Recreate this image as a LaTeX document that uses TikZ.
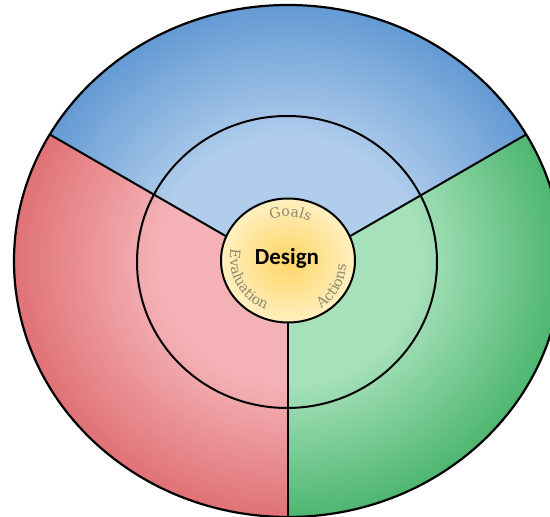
\documentclass[tikz,border=0pt]{standalone}
\usepackage{fontspec}
\newfontfamily\carlito{Carlito}
\newfontfamily\arcfont{DejaVu Serif}
\usetikzlibrary{decorations.text,calc}
\definecolor{bluelt}{RGB}{176,205,236}
\definecolor{bluedk}{RGB}{100,154,211}
\definecolor{redlt}{RGB}{244,178,182}
\definecolor{reddk}{RGB}{224,114,118}
\definecolor{greenlt}{RGB}{166,225,186}
\definecolor{greendk}{RGB}{78,182,112}
\definecolor{coreIn}{RGB}{255,212,100}
\definecolor{coreOut}{RGB}{255,240,192}
\definecolor{arctext}{RGB}{140,135,112}
\pgfdeclareradialshading{blueshade}{\pgfpoint{0bp}{0bp}}{color(0bp)=(bluelt); color(12bp)=(bluelt); color(25bp)=(bluedk); color(50bp)=(bluedk)}
\pgfdeclareradialshading{redshade}{\pgfpoint{0bp}{0bp}}{color(0bp)=(redlt); color(12bp)=(redlt); color(25bp)=(reddk); color(50bp)=(reddk)}
\pgfdeclareradialshading{greenshade}{\pgfpoint{0bp}{0bp}}{color(0bp)=(greenlt); color(12bp)=(greenlt); color(25bp)=(greendk); color(50bp)=(greendk)}
\tikzset{
  ringline/.style={line width=2pt, black},
  outerline/.style={line width=2.2pt, black},
  arclabel/.style={decorate, decoration={text along path, text align=center}}
}
\begin{document}
\begin{tikzpicture}[x=1pt,y=1pt]
\useasboundingbox (0,0) rectangle (550,517);
\fill[white] (0,0) rectangle (550,517);
\coordinate (C) at (288,256);
\coordinate (J) at (288,245);
\coordinate (M) at (287,255);
\coordinate (D) at (288,256.5);
\coordinate (UL) at ($(J)+(150:420)$);
\coordinate (UR) at ($(J)+(30:420)$);
% sectors
\begin{scope}
  \clip (C) ellipse [x radius=274pt, y radius=256pt];
  \begin{scope}
    \clip (J) -- (UL) -- (-80,620) -- (660,620) -- (UR) -- cycle;
    \shade[shading=blueshade] (C) ellipse [x radius=274pt, y radius=256pt];
  \end{scope}
  \begin{scope}
    \clip (J) -- (UL) -- (-80,-60) -- (288,-60) -- cycle;
    \shade[shading=redshade] (C) ellipse [x radius=274pt, y radius=256pt];
  \end{scope}
  \begin{scope}
    \clip (J) -- (288,-60) -- (660,-60) -- (UR) -- cycle;
    \shade[shading=greenshade] (C) ellipse [x radius=274pt, y radius=256pt];
  \end{scope}
  \draw[ringline] (J) -- (UL);
  \draw[ringline] (J) -- (UR);
  \draw[ringline] (J) -- (288,-60);
\end{scope}
\draw[ringline] (M) ellipse [x radius=150pt, y radius=146pt];
\draw[outerline] (C) ellipse [x radius=274pt, y radius=256pt];
% core
\shade[inner color=coreIn, outer color=coreOut] (D) ellipse [x radius=67pt, y radius=62pt];
\draw[ringline] (D) ellipse [x radius=67pt, y radius=62pt];
\node (design) at (287,259) {\carlito\bfseries\fontsize{23}{27}\selectfont Design};
% curved labels
\path[arclabel, decoration={text={|\arcfont\fontsize{14}{16}\selectfont\color{arctext}|Goals}}]
  ($(D)+(134:44)$) arc [start angle=134, end angle=40, radius=44pt];
\path[arclabel, decoration={text={|\arcfont\fontsize{14}{16}\selectfont\color{arctext}|Evaluation}}]
  ($(D)+(150:58)$) arc [start angle=150, end angle=266, x radius=58pt, y radius=55pt];
\path[arclabel, decoration={text={|\arcfont\fontsize{14}{16}\selectfont\color{arctext}|Actions}}]
  ($(D)+(292:58)$) arc [start angle=292, end angle=372, x radius=58pt, y radius=55pt];
\end{tikzpicture}
\end{document}
